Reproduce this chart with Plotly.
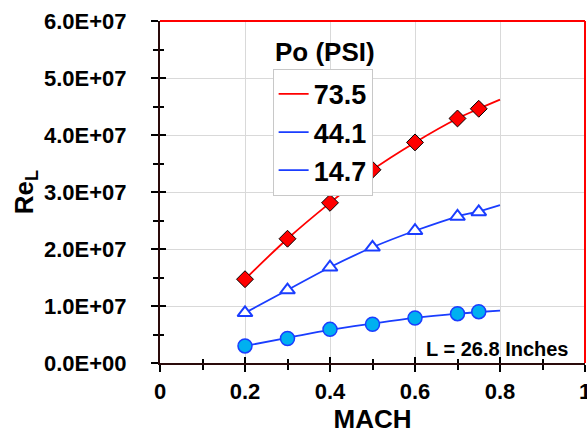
import plotly.graph_objects as go

# ---- data ----
mach = [0.2, 0.3, 0.4, 0.5, 0.6, 0.7, 0.75]
re_735 = [1.47e7, 2.18e7, 2.81e7, 3.39e7, 3.87e7, 4.29e7, 4.46e7]
re_441 = [0.88e7, 1.28e7, 1.68e7, 2.03e7, 2.32e7, 2.57e7, 2.65e7]
re_147 = [0.30e7, 0.43e7, 0.59e7, 0.68e7, 0.79e7, 0.865e7, 0.90e7]

# trend curves (fitted lines) extend to M = 0.8
fit_mach = [0.2, 0.3, 0.4, 0.5, 0.6, 0.7, 0.75, 0.8]
fit_735 = [1.47e7, 2.18e7, 2.81e7, 3.39e7, 3.87e7, 4.29e7, 4.46e7, 4.62e7]
fit_441 = [0.88e7, 1.28e7, 1.68e7, 2.03e7, 2.32e7, 2.57e7, 2.66e7, 2.77e7]
fit_147 = [0.30e7, 0.44e7, 0.58e7, 0.69e7, 0.79e7, 0.865e7, 0.895e7, 0.92e7]

series_names = ["73.5", "44.1", "14.7"]

x_tickvals = [0, 0.2, 0.4, 0.6, 0.8, 1.0]
x_ticktext = ["0", "0.2", "0.4", "0.6", "0.8", "1"]
y_tickvals = [0, 1e7, 2e7, 3e7, 4e7, 5e7, 6e7]
y_ticktext = ["0.0E+00", "1.0E+07", "2.0E+07", "3.0E+07", "4.0E+07", "5.0E+07", "6.0E+07"]

RED = "#ff0000"
BLUE = "#1a3dff"
CYAN = "#00b0f0"
FONT = "Liberation Sans, Arial, sans-serif"


def bold(items):
    return ["<b>" + t + "</b>" for t in items]


fig = go.Figure()

# fitted lines (legend entries)
fig.add_trace(go.Scatter(x=fit_mach, y=fit_735, mode="lines", name="<b>" + series_names[0] + "</b>",
                         line=dict(color=RED, width=1.8, shape="spline")))
fig.add_trace(go.Scatter(x=fit_mach, y=fit_441, mode="lines", name="<b>" + series_names[1] + "</b>",
                         line=dict(color=BLUE, width=1.8, shape="spline")))
fig.add_trace(go.Scatter(x=fit_mach, y=fit_147, mode="lines", name="<b>" + series_names[2] + "</b>",
                         line=dict(color=BLUE, width=1.8, shape="spline")))

# markers
fig.add_trace(go.Scatter(x=mach, y=re_735, mode="markers", showlegend=False,
                         marker=dict(symbol="diamond", size=13, color=RED,
                                     line=dict(color="black", width=1))))
fig.add_trace(go.Scatter(x=mach, y=re_441, mode="markers", showlegend=False,
                         marker=dict(symbol="triangle-up", size=13, color="white",
                                     line=dict(color=BLUE, width=2))))
fig.add_trace(go.Scatter(x=mach, y=re_147, mode="markers", showlegend=False,
                         marker=dict(symbol="circle", size=14, color=CYAN,
                                     line=dict(color=BLUE, width=1.5))))

# dummy trace to activate overlay axes (inner half of crossing ticks)
fig.add_trace(go.Scatter(x=[0, 1], y=[0, 6e7], xaxis="x2", yaxis="y2", mode="markers",
                         marker=dict(opacity=0), showlegend=False, hoverinfo="skip"))

tickfont = dict(family=FONT, size=22, color="black")

fig.update_layout(
    width=587, height=434,
    margin=dict(l=160, r=2, t=21, b=71),
    paper_bgcolor="white", plot_bgcolor="white",
    font=dict(family=FONT, color="black"),
    xaxis=dict(range=[0, 1], tickvals=x_tickvals, ticktext=bold(x_ticktext),
               tickfont=tickfont, showgrid=True, gridcolor="#d9d9d9", gridwidth=1,
               showline=True, linecolor="#2a0a0a", linewidth=2,
               ticks="outside", ticklen=7, tickwidth=1.5, tickcolor="black",
               ticklabeloverflow="allow", automargin=False, ticklabelstandoff=1,
               minor=dict(dtick=0.1, ticks="outside", ticklen=5, tickwidth=1.5,
                          tickcolor="black", showgrid=False),
               zeroline=False,
               title=dict(text="<b>MACH</b>", font=dict(family=FONT, size=26), standoff=0)),
    yaxis=dict(range=[0, 6e7], tickvals=y_tickvals, ticktext=bold(y_ticktext),
               tickfont=tickfont, showgrid=True, gridcolor="#d9d9d9", gridwidth=1,
               showline=True, linecolor="#2a0a0a", linewidth=2,
               ticks="outside", ticklen=7, tickwidth=1.5, tickcolor="black",
               automargin=False, ticklabelstandoff=20,
               minor=dict(dtick=5e6, ticks="outside", ticklen=5, tickwidth=1.5,
                          tickcolor="black", showgrid=False),
               zeroline=False,
               title=dict(text="<b>Re<sub>L</sub></b>", font=dict(family=FONT, size=26), standoff=3)),
    xaxis2=dict(range=[0, 1], overlaying="x", side="bottom", tickvals=x_tickvals,
                showticklabels=False, showgrid=False, zeroline=False, ticks="inside",
                ticklen=6, tickwidth=1.5, tickcolor="black", automargin=False,
                minor=dict(dtick=0.1, ticks="inside", ticklen=4, tickwidth=1.5, tickcolor="black")),
    yaxis2=dict(range=[0, 6e7], overlaying="y", side="left", tickvals=y_tickvals,
                showticklabels=False, showgrid=False, zeroline=False, ticks="inside",
                ticklen=6, tickwidth=1.5, tickcolor="black", automargin=False,
                minor=dict(dtick=5e6, ticks="inside", ticklen=4, tickwidth=1.5, tickcolor="black")),
    legend=dict(x=0.265, y=0.86, xanchor="left", yanchor="top",
                bgcolor="white", bordercolor="#c8c8c8", borderwidth=1,
                font=dict(family=FONT, size=27, color="black"),
                itemwidth=30, tracegroupgap=0),
    shapes=[
        dict(type="line", xref="paper", yref="paper", x0=0, x1=1, y0=1, y1=1,
             line=dict(color=RED, width=2), layer="above"),
        dict(type="line", xref="paper", yref="paper", x0=1, x1=1, y0=0, y1=1,
             line=dict(color=RED, width=2), layer="above"),
    ],
    annotations=[
        dict(text="<b>Po (PSI)</b>", xref="paper", yref="paper", x=0.388, y=0.91,
             xanchor="center", yanchor="middle", showarrow=False,
             font=dict(family=FONT, size=26, color="black")),
        dict(text="<b>L = 26.8 Inches</b>", xref="paper", yref="paper", x=0.966, y=0.041,
             xanchor="right", yanchor="middle", showarrow=False,
             font=dict(family=FONT, size=20, color="black")),
    ],
)

fig.write_html("out.html")
